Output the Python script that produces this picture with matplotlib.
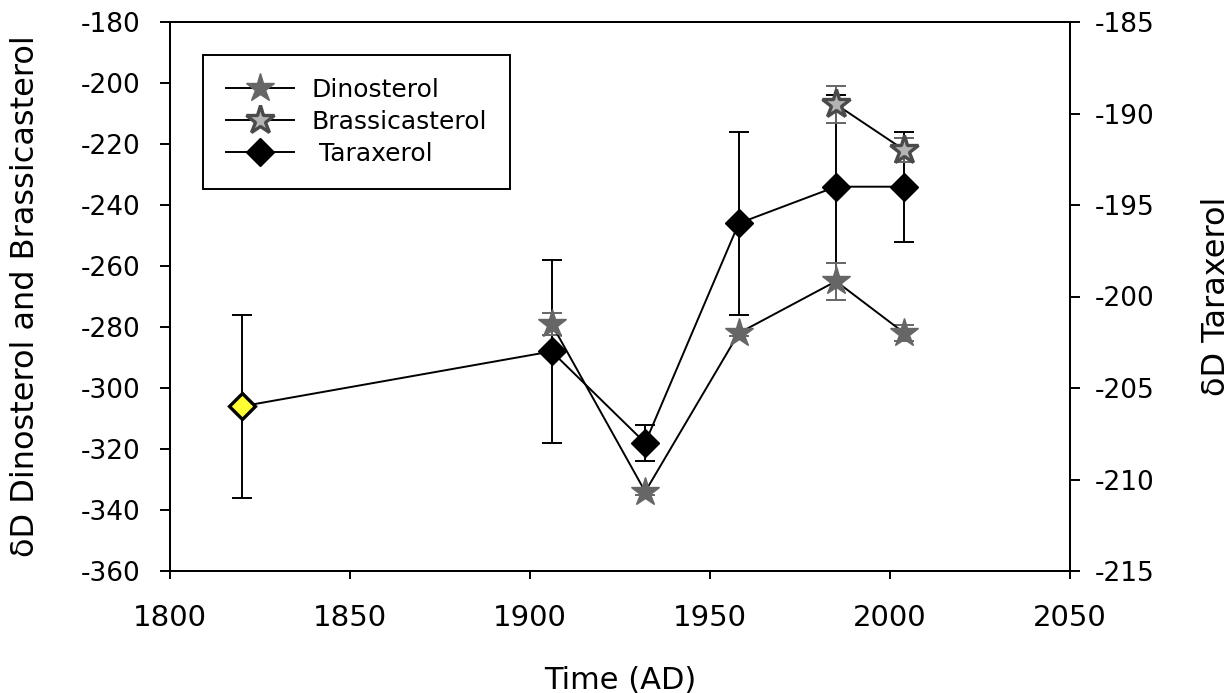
import matplotlib
matplotlib.use('Agg')
import matplotlib.pyplot as plt
from matplotlib.lines import Line2D

# ---- data ----
years_dino = [1906, 1932, 1958, 1985, 2004]
dD_dino = [-279, -334, -282, -265, -282]
err_dino = [3.5, 1, 1, 6, 2.5]

years_brass = [1985, 2004]
dD_brass = [-207, -222]
err_brass = [6, 4]

years_tarax = [1820, 1906, 1932, 1958, 1985, 2004]
dD_tarax = [-206, -203, -208, -196, -194, -194]
err_tarax = [5, 5, 1, 5, 5, 3]

x_ticks = [1800, 1850, 1900, 1950, 2000, 2050]
left_ticks = [-360, -340, -320, -300, -280, -260, -240, -220, -200, -180]
right_ticks = [-215, -210, -205, -200, -195, -190, -185]

series_labels = ['Dinosterol', 'Brassicasterol', ' Taraxerol']

# ---- styles ----
DINO = '#666666'
BRASS_FILL = '#b4b4b4'
BRASS_EDGE = '#4a4a4a'
YELLOW = '#ffff33'
LW = 1.4
STAR_MS = 21
DIA_MS = 14

plt.rcParams['font.family'] = ['DejaVu Sans']
plt.rcParams['axes.unicode_minus'] = False

fig = plt.figure(figsize=(12.3, 6.93), dpi=100)
ax = fig.add_axes([170/1230, 1-571/693, 900/1230, 549/693])
ax2 = ax.twinx()

# Taraxerol on right axis
ax2.errorbar(years_tarax, dD_tarax, yerr=err_tarax, fmt='none', ecolor='black',
             elinewidth=LW, capsize=7, capthick=LW, zorder=2)
ax2.plot(years_tarax, dD_tarax, '-', color='black', lw=LW, zorder=3)
ax2.plot(years_tarax[1:], dD_tarax[1:], 'D', ms=DIA_MS, mfc='black', mec='black', zorder=4)
ax2.plot(years_tarax[:1], dD_tarax[:1], 'D', ms=DIA_MS - 1, mfc=YELLOW, mec='black',
         mew=2.4, zorder=4)

# left axis drawn on top
ax.set_zorder(ax2.get_zorder() + 1)
ax.patch.set_visible(False)

ax.errorbar(years_dino, dD_dino, yerr=err_dino, fmt='none', ecolor=DINO,
            elinewidth=LW, capsize=7, capthick=LW, zorder=2)
ax.plot(years_dino, dD_dino, '-', color='black', lw=LW, zorder=3)
ax.plot(years_dino, dD_dino, '*', ms=STAR_MS, mfc=DINO, mec=DINO, zorder=4)

ax.errorbar(years_brass, dD_brass, yerr=err_brass, fmt='none', ecolor=DINO,
            elinewidth=LW, capsize=7, capthick=LW, zorder=2)
ax.plot(years_brass, dD_brass, '-', color='black', lw=LW, zorder=3)
ax.plot(years_brass, dD_brass, '*', ms=STAR_MS, mfc=BRASS_FILL, mec=BRASS_EDGE,
        mew=2.4, zorder=4)

# axes limits and ticks
ax.set_xlim(1800, 2050)
ax.set_ylim(-360, -180)
ax2.set_ylim(-215, -185)
ax.set_xticks(x_ticks)
ax.set_yticks(left_ticks)
ax2.set_yticks(right_ticks)

for a in (ax, ax2):
    for s in a.spines.values():
        s.set_linewidth(LW)
        s.set_color('black')

ax.tick_params(axis='y', direction='out', length=7, width=LW,
               labelsize=19, pad=14, left=True, right=False)
ax.tick_params(axis='x', direction='out', length=6, width=LW, labelsize=21, pad=18,
               top=False)
ax2.tick_params(axis='y', direction='out', length=7, width=LW, labelsize=19, pad=11)

ax.set_xlabel('Time (AD)', fontsize=22, labelpad=24)
ax.set_ylabel('\u03b4D Dinosterol and Brassicasterol', fontsize=23, labelpad=29)
ax2.set_ylabel('\u03b4D Taraxerol', fontsize=23, labelpad=33)

handles = [
    Line2D([], [], color='black', lw=LW, marker='*', ms=STAR_MS, mfc=DINO, mec=DINO),
    Line2D([], [], color='black', lw=LW, marker='*', ms=STAR_MS, mfc=BRASS_FILL,
           mec=BRASS_EDGE, mew=2.4),
    Line2D([], [], color='black', lw=LW, marker='D', ms=DIA_MS, mfc='black', mec='black'),
]
leg = ax.legend(handles, series_labels, loc='upper left', bbox_to_anchor=(0.037, 0.94),
                borderaxespad=0, fontsize=18, frameon=True, fancybox=False,
                edgecolor='black', framealpha=1, handlelength=2.72, handletextpad=0.68,
                labelspacing=0.32, borderpad=0.92)
leg.get_frame().set_linewidth(LW)

fig.savefig('out.png', dpi=100)
